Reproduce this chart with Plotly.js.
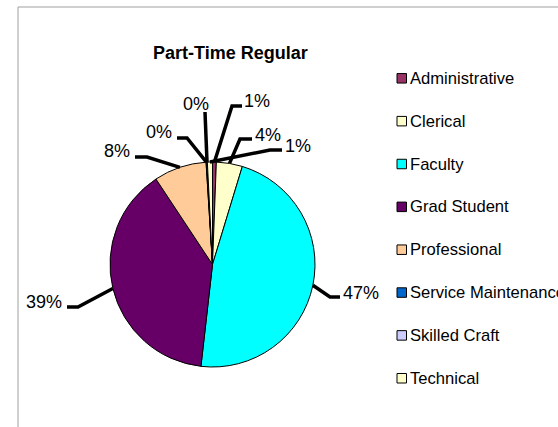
<!DOCTYPE html>
<html>
<head>
<meta charset="utf-8">
<script src="https://cdn.plot.ly/plotly-3.0.1.min.js"></script>
<style>
  html, body { margin: 0; padding: 0; background: #ffffff; }
  #chart { width: 558px; height: 427px; }
</style>
</head>
<body>
<div id="chart"></div>
<script>
// ---- data ----
const categories = ["Administrative", "Clerical", "Faculty", "Grad Student", "Professional", "Service Maintenance", "Skilled Craft", "Technical"];
const values = [0.6, 4.1, 47.1, 38.9, 8.3, 0.1, 0.1, 0.8];
const colors = ["#993366", "#FFFFCC", "#00FFFF", "#660066", "#FFCC99", "#0066CC", "#CCCCFF", "#FFFFCC"];
const chartTitle = "Part-Time Regular";

// ---- layout constants (pixels) ----
const W = 558, H = 427;
const FONT = "Liberation Sans, Arial, sans-serif";
const pieCx = 212.5, pieCy = 264.5, pieR = 102.5;
// label placement (Excel-style dragged labels): elbow point, line end, text anchor
const labelLayout = [
  { elbow: [232, 106], end: [242, 106], text: [242, 100.6], anchor: "left" },
  { elbow: [240, 139], end: [252, 139], text: [253, 134.6], anchor: "left" },
  { elbow: [330, 297], end: [340, 297], text: [341, 292.6], anchor: "left" },
  { elbow: [78, 307],  end: [67, 307],  text: [64, 301.6],  anchor: "right" },
  { elbow: [147, 157], end: [135, 157], text: [132, 150.6], anchor: "right" },
  { elbow: [187, 138], end: [177, 138], text: [174, 131.6], anchor: "right" },
  { elbow: [205, 112], end: [205, 112], text: [196, 103.6], anchor: "center" },
  { elbow: [270, 150], end: [282, 150], text: [283, 145.6], anchor: "left" }
];
const legendX = 397, legendY0 = 78.3, legendStep = 42.85, legendBox = 9.5;

const px = x => x / W;
const py = y => 1 - y / H;

const total = values.reduce((a, b) => a + b, 0);

const trace = {
  type: "pie",
  labels: categories,
  values: values,
  sort: false,
  direction: "clockwise",
  rotation: 0,
  textinfo: "none",
  hoverinfo: "label+percent",
  showlegend: false,
  marker: { colors: colors, line: { color: "#000000", width: 1 } },
  domain: { x: [px(pieCx - pieR), px(pieCx + pieR)], y: [py(pieCy + pieR), py(pieCy - pieR)] }
};

const shapes = [];
const annotations = [];

// frame border (top and left visible)
shapes.push({ type: "line", xref: "paper", yref: "paper", x0: px(18), y0: py(7), x1: 1.01, y1: py(7), line: { color: "#a0a0a0", width: 1 } });
shapes.push({ type: "line", xref: "paper", yref: "paper", x0: px(18), y0: py(7), x1: px(18), y1: -0.01, line: { color: "#a0a0a0", width: 1 } });

// title
annotations.push({
  xref: "paper", yref: "paper", x: px(230.5), y: py(52.7), xanchor: "center", yanchor: "middle",
  text: "<b>" + chartTitle + "</b>", showarrow: false,
  font: { family: FONT, size: 18, color: "#000000" }
});

// data labels with leader lines, start point computed from slice mid-angle
let cum = 0;
values.forEach((v, i) => {
  const mid = (cum + v / 2) / total * 2 * Math.PI;
  cum += v;
  const sx = pieCx + pieR * Math.sin(mid);
  const sy = pieCy - pieR * Math.cos(mid);
  const L = labelLayout[i];
  const path = "M " + px(sx) + "," + py(sy) +
               " L " + px(L.elbow[0]) + "," + py(L.elbow[1]) +
               " L " + px(L.end[0]) + "," + py(L.end[1]);
  shapes.push({ type: "path", xref: "paper", yref: "paper", path: path,
                line: { color: "#000000", width: 3.5 } });
  annotations.push({
    xref: "paper", yref: "paper", x: px(L.text[0]), y: py(L.text[1]),
    xanchor: L.anchor, yanchor: "middle", showarrow: false,
    text: Math.round(v / total * 100) + "%",
    font: { family: FONT, size: 18, color: "#000000" }
  });
});

// legend (Excel-style, evenly spaced)
categories.forEach((c, i) => {
  const cy = legendY0 + i * legendStep;
  shapes.push({ type: "rect", xref: "paper", yref: "paper",
    x0: px(legendX), x1: px(legendX + legendBox), y0: py(cy + legendBox / 2), y1: py(cy - legendBox / 2),
    fillcolor: colors[i], line: { color: "#000000", width: 1 } });
  annotations.push({
    xref: "paper", yref: "paper", x: px(legendX + legendBox + 1.5), y: py(cy),
    xanchor: "left", yanchor: "middle", showarrow: false, text: c,
    font: { family: FONT, size: 16.6, color: "#000000" }
  });
});

const layout = {
  width: W, height: H,
  margin: { l: 0, r: 0, t: 0, b: 0 },
  paper_bgcolor: "#ffffff",
  plot_bgcolor: "#ffffff",
  showlegend: false,
  shapes: shapes,
  annotations: annotations,
  font: { family: FONT }
};

Plotly.newPlot("chart", [trace], layout, { displayModeBar: false, staticPlot: true });
</script>
</body>
</html>
